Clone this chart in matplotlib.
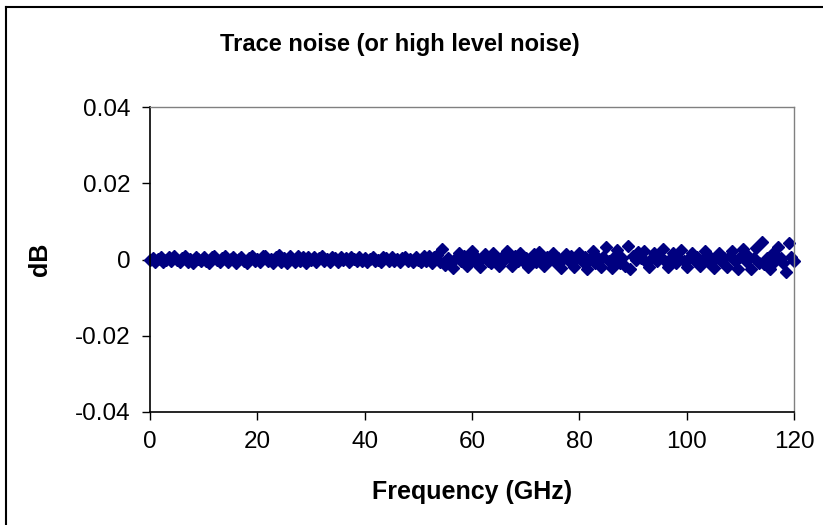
import numpy as np
import matplotlib
matplotlib.use("Agg")
import matplotlib.pyplot as plt
from matplotlib.lines import Line2D

plt.rcParams['font.family'] = ['Liberation Sans', 'DejaVu Sans']

title = "Trace noise (or high level noise)"
x_label = "Frequency (GHz)"
y_label = "dB"

freq_start_ghz = 0.0
freq_step_ghz = 0.5

# trace noise values in milli-dB (one per 0.5 GHz)
noise_mdb_low = [
    0.0, 0.5, -0.6, 0.1, 0.7, -0.7, -0.1, 0.6, -0.5, 0.8, 0.0, -0.7, 0.5, 0.9, -0.6, 0.1, -0.8, 0.6, 0.2, -0.5,
    0.7, -0.4, -0.8, 0.6, 1.0, -0.2, -0.7, 0.4, 0.8, -0.6, 0.1, 0.7, -0.9, 0.2, 0.6, -0.5, -0.8, 0.5, 0.9, -0.4,
    0.2, -0.7, 0.8, 1.0, -0.5, 0.1, -0.9, 0.7, 1.1, -0.6, 0.3, -1.0, 0.8, 0.2, -0.7, 0.9, -0.4, 0.6, -0.8, 0.7,
    -0.2, 0.6, -0.7, 0.4, 0.8, -0.5, 0.1, -0.7, 0.6, 0.4, -0.6, 0.7, -0.2, 0.5, -0.7, 0.6, 0.1, -0.5, 0.7, -0.4,
    0.5, -0.6, 0.2, 0.7, -0.5, 0.0, -0.7, 0.6, 0.4, -0.5, 0.7, -0.4, 0.1, -0.6, 0.5, 0.7, -0.5, 0.2, -0.7, 0.6,
    0.0, -0.6, 0.8, -0.4, 0.9, -0.9, 0.6, 1.3, -0.7, 2.8, -1.5,
]
noise_mdb_high = [
    0.5, -0.6, -2.2, 0.3, 1.6, -0.4, 0.8, -1.8, 0.2,
    2.2, -0.5, 0.4, -1.9, 0.7, 1.5, -0.3, -0.9, 1.8, 0.1,
    -1.7, 0.6, -0.2, 2.2, 0.4, -1.6, 0.8, -0.5, 1.7, -0.3,
    0.5, -2.0, 0.2, 1.4, -0.6, 1.9, 0.3, -1.8, 0.6, -0.2,
    1.8, -0.7, 0.4, -2.1, 0.1, 1.5, -0.5, 0.9, -1.9, 0.3,
    1.7, -0.4, 0.6, -2.5, 0.2, 2.3, -0.8, 0.5, -2.0, 0.7,
    3.2, -0.3, -2.2, 0.6, 2.5, -0.9, 0.4, -1.8, 3.6, -2.5,
    0.8, -0.2, 1.9, 0.4, 2.2, -0.6, -2.0, 0.5, 1.7, -0.4,
    0.6, 2.8, -0.5, -1.9, 0.3, 1.6, -0.8, 0.2, 2.6, -0.3,
    -2.0, 0.5, 1.8, -0.4, 0.7, -1.7, 0.2, 2.1, -0.6, 0.4,
    -2.2, 0.3, 1.6, -0.7, 0.5, -1.9, 0.8, 2.3, -0.4, -2.4,
    0.6, 2.8, -0.5, 0.9, -2.6, 0.3, 3.0, -0.8, 4.6, -1.2,
    0.4, -2.6, 1.8, -0.3, 3.2, 0.5, -1.0, -3.2, 4.2, 0.6,
    -0.5,
]

x_ticks = [0, 20, 40, 60, 80, 100, 120]
y_ticks = [-0.04, -0.02, 0.0, 0.02, 0.04]
y_tick_labels = ["-0.04", "-0.02", "0", "0.02", "0.04"]

noise_db = np.array(noise_mdb_low + noise_mdb_high) / 1000.0
freq = freq_start_ghz + freq_step_ghz * np.arange(len(noise_db))

W, H = 823, 525
fig = plt.figure(figsize=(W / 100, H / 100), dpi=100)
ax = fig.add_axes([150 / W, 1 - 412 / H, (794 - 150) / W, (412 - 107) / H])

ax.plot(freq, noise_db, linestyle='none', marker='D', markersize=6.5,
        color='#000080', markeredgecolor='#000080', clip_on=False)

ax.set_xlim(0, 120)
ax.set_ylim(-0.04, 0.04)
ax.set_xticks(x_ticks)
ax.set_xticklabels([str(t) for t in x_ticks])
ax.set_yticks(y_ticks)
ax.set_yticklabels(y_tick_labels)
ax.tick_params(axis='both', direction='out', length=6, width=1, labelsize=17.5, pad=8, colors='black')

for s in ['left', 'bottom']:
    ax.spines[s].set_color('black')
    ax.spines[s].set_linewidth(1.2)
for s in ['top', 'right']:
    ax.spines[s].set_color('#808080')
    ax.spines[s].set_linewidth(1.0)

fig.text(400 / W, 1 - 45 / H, title, ha='center', va='center', fontsize=17, fontweight='bold')
fig.text(472 / W, 1 - 492 / H, x_label, ha='center', va='center', fontsize=18, fontweight='bold')
fig.text(40 / W, 1 - 259 / H, y_label, ha='center', va='center', fontsize=18, fontweight='bold', rotation=90)

# outer chart frame (left and top edges visible)
fig.add_artist(Line2D([6 / W, 6 / W], [0, 1 - 7 / H], transform=fig.transFigure, color='black', lw=1.5))
fig.add_artist(Line2D([6 / W, 1], [1 - 7 / H, 1 - 7 / H], transform=fig.transFigure, color='black', lw=1.5))

fig.savefig('out.png', dpi=100)
